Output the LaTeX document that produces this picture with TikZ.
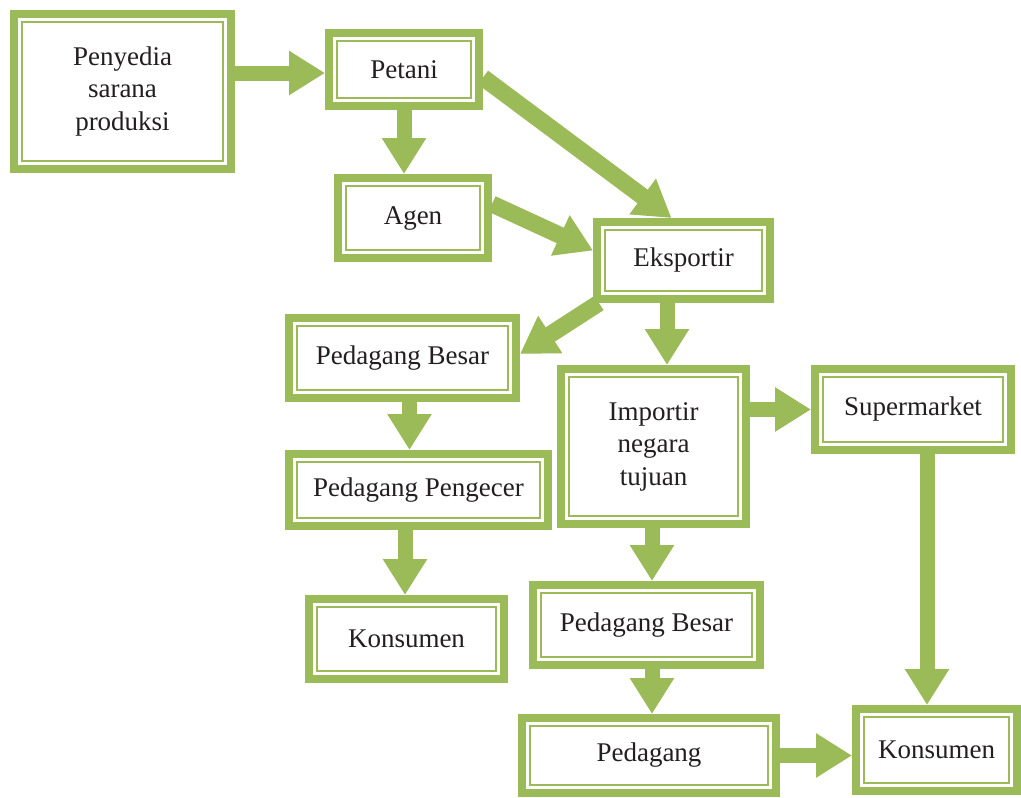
\documentclass[tikz,border=0pt]{standalone}
\usepackage{fontspec}
\setmainfont{Liberation Serif}
\usetikzlibrary{arrows.meta,calc,backgrounds}
\definecolor{gr}{HTML}{9BBB59}
\definecolor{tx}{HTML}{231F20}
\begin{document}
\begin{tikzpicture}[x=1pt,y=-1pt,
 gbox/.style={rectangle, draw=gr, line width=8pt, fill=white, inner sep=0pt,
   align=center, text=tx, font=\fontsize{27}{32.5}\selectfont,
   path picture={\draw[gr, line width=2pt]
     ([shift={(8pt,8pt)}]path picture bounding box.south west) rectangle
     ([shift={(-8pt,-8pt)}]path picture bounding box.north east);}},
 flow/.style={draw=gr, line width=15pt, -{Triangle[length=36pt,width=42pt]}},
 dflow/.style={flow, line width=17pt}]
\useasboundingbox (0,0) rectangle (1021,798);

\node[gbox, minimum width=217pt, minimum height=155pt] (peny) at (122.5,91.5) {Penyedia\\sarana\\produksi};
\node[gbox, minimum width=150pt, minimum height=73pt] (pet) at (404,69.5) {Petani};
\node[gbox, minimum width=150pt, minimum height=80pt] (agen) at (413,218) {Agen};
\node[gbox, minimum width=173pt, minimum height=77pt] (eks) at (683.5,260.5) {Eksportir};
\node[gbox, minimum width=227pt, minimum height=80pt] (pbl) at (402.5,358) {Pedagang Besar};
\node[gbox, minimum width=259pt, minimum height=72pt] (peng) at (418.5,490) {Pedagang Pengecer};
\node[gbox, minimum width=195pt, minimum height=80pt] (konl) at (406.5,639) {Konsumen};
\node[gbox, minimum width=185pt, minimum height=155pt] (imp) at (653.5,446.5) {Importir\\negara\\tujuan};
\node[gbox, minimum width=196pt, minimum height=81pt] (sup) at (913,409.5) {Supermarket};
\node[gbox, minimum width=227pt, minimum height=80pt] (pbr) at (646.5,625) {Pedagang Besar};
\node[gbox, minimum width=254pt, minimum height=75pt] (ped) at (649,755.5) {Pedagang};
\node[gbox, minimum width=161pt, minimum height=82pt] (konr) at (936.5,750) {Konsumen};

\begin{scope}[on background layer]
\fill[white] (0,0) rectangle (1021,798);
\draw[flow] ([yshift=-3.5pt]pet.west -| peny.east) -- ([yshift=-3.5pt]pet.west);
\draw[flow] (pet.south) -- (pet.south |- agen.north);
\draw[dflow] ([yshift=-8pt]pet.east) -- ([xshift=-12pt]eks.north);
\draw[dflow] ([yshift=14pt]agen.east) -- ([yshift=10pt]eks.west);
\draw[dflow] ([xshift=6pt]eks.south west) -- ([yshift=4pt]pbl.east);
\draw[flow] ([xshift=-16.5pt]eks.south) -- ([xshift=-16.5pt]eks.south |- imp.north);
\draw[flow] ([xshift=7pt]pbl.south) -- ([xshift=7pt]pbl.south |- peng.north);
\draw[flow] ([xshift=-1.5pt]konl.north |- peng.south) -- ([xshift=-1.5pt]konl.north);
\draw[flow] (imp.east |- sup.west) -- (sup.west);
\draw[flow] ([xshift=14pt]sup.south) -- ([xshift=14pt]sup.south |- konr.north);
\draw[flow] ([xshift=-1.5pt]imp.south) -- ([xshift=-1.5pt]imp.south |- pbr.north);
\draw[flow] ([xshift=5.5pt]pbr.south) -- ([xshift=5.5pt]pbr.south |- ped.north);
\draw[flow] (ped.east) -- (ped.east -| konr.west);
\end{scope}
\end{tikzpicture}
\end{document}
